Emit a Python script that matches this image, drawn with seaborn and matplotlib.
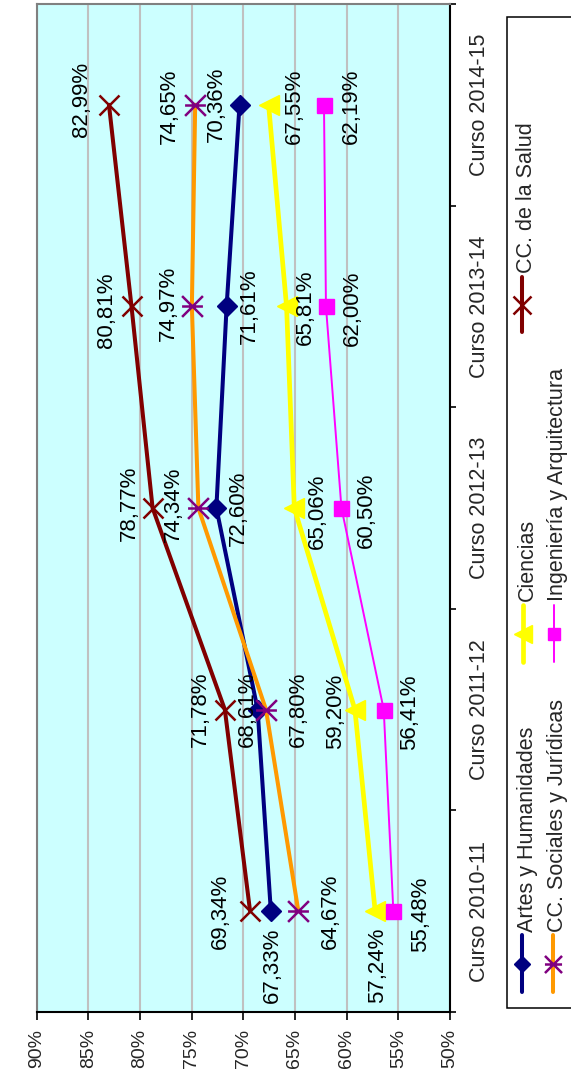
import numpy as np
import pandas as pd
import matplotlib
matplotlib.use("Agg")
import matplotlib.pyplot as plt
from matplotlib.path import Path
from matplotlib.patches import Rectangle
import seaborn as sns

# -------------------------------------------------------------------------
# Data (tasa por rama, %)
# -------------------------------------------------------------------------
cursos = ["Curso 2010-11", "Curso 2011-12", "Curso 2012-13", "Curso 2013-14", "Curso 2014-15"]
ramas = ["Artes y Humanidades", "CC. Sociales y Jurídicas", "Ciencias",
         "Ingeniería y Arquitectura", "CC. de la Salud"]
artes = [67.33, 68.61, 72.60, 71.61, 70.36]
sociales = [64.67, 67.80, 74.34, 74.97, 74.65]
ciencias = [57.24, 59.20, 65.06, 65.81, 67.55]
ingenieria = [55.48, 56.41, 60.50, 62.00, 62.19]
salud = [69.34, 71.78, 78.77, 80.81, 82.99]
pct_ticks = [50, 55, 60, 65, 70, 75, 80, 85, 90]

series = [artes, sociales, ciencias, ingenieria, salud]

# long table for seaborn
df = pd.DataFrame({
    "rama": np.repeat(ramas, len(cursos)),
    "curso": cursos * len(ramas),
    "pos": list(range(len(cursos))) * len(ramas),
    "valor": np.concatenate(series),
})

# -------------------------------------------------------------------------
# Styles
# -------------------------------------------------------------------------
asterisk = Path([(-1, -1), (1, 1), (-1, 1), (1, -1), (-1, 0), (1, 0)],
                [Path.MOVETO, Path.LINETO] * 3)

styles = {
    "Artes y Humanidades": dict(color="#000080", marker="D", ms=10.5, mfc="#000080",
                                mec="#000080", mew=1, lw=2.9),
    "CC. Sociales y Jurídicas": dict(color="#FF9900", marker=asterisk, ms=15, mfc="none",
                                     mec="#800080", mew=1.8, lw=2.9),
    "Ciencias": dict(color="#FFFF00", marker="<", ms=15, mfc="#FFFF00",
                     mec="#FFFF00", mew=1, lw=3.4),
    "Ingeniería y Arquitectura": dict(color="#FF00FF", marker="s", ms=10.8, mfc="#FF00FF",
                                      mec="#FF00FF", mew=1, lw=1.4),
    "CC. de la Salud": dict(color="#800000", marker="x", ms=15, mfc="none",
                            mec="#800000", mew=1.8, lw=2.9),
}

# label offsets in pixels (dx to the right, dy downwards)
label_offsets = {
    "Artes y Humanidades": [(0, 54), (-12, 0), (20, 0), (21, 0), (-25, 0)],
    "CC. Sociales y Jurídicas": [(30, 0), (30, 0), (-27, -4), (-25, -3), (-28, 2)],
    "Ciencias": [(0, 54), (-21, 2), (21, 3), (17, 1), (24, 2)],
    "Ingeniería y Arquitectura": [(25, 3), (24, 3), (23, 2), (24, 2), (25, 2)],
    "CC. de la Salud": [(-32, 0), (-26, 0), (-25, -5), (-27, 4), (-29, -5)],
}

sns.set_style("white")
plt.rcParams["font.family"] = ["Liberation Sans", "DejaVu Sans"]

FS = 15.5

fig = plt.figure(figsize=(5.71, 10.73), dpi=100)
W, H = 571, 1073
ax = fig.add_axes([36.5 / W, (H - 1012) / H, (450 - 36.5) / W, (1012 - 4) / H])
ax.set_facecolor("#CCFFFF")

for rama in ramas:
    st = styles[rama]
    sub = df[df["rama"] == rama]
    sns.lineplot(data=sub, x="valor", y="pos", orient="y", ax=ax, legend=False,
                 color=st["color"], linewidth=st["lw"], marker=st["marker"],
                 markersize=st["ms"], markerfacecolor=st["mfc"],
                 markeredgecolor=st["mec"], markeredgewidth=st["mew"], zorder=3)
    for (_, row), (dx, dy) in zip(sub.iterrows(), label_offsets[rama]):
        txt = f"{row['valor']:.2f}".replace(".", ",") + "%"
        ax.annotate(txt, (row["valor"], row["pos"]), xytext=(dx + 2, -dy),
                    textcoords="offset pixels", rotation=90, ha="center",
                    va="center", fontsize=16, color="black", zorder=5)

# percentage axis (horizontal, inverted)
ax.set_xlim(90, 50)
ax.set_xticks(pct_ticks)
ax.set_xticklabels([f"{t}%" for t in pct_ticks])
ax.xaxis.grid(True, color="#C0C0C0", linewidth=1.5, zorder=0)
ax.set_axisbelow(True)
ax.tick_params(axis="x", direction="out", length=5.5, width=1.2, pad=6.5,
               bottom=True, color="black", labelsize=14, labelrotation=90)

# category axis (vertical, on the right)
ax.set_ylim(-0.5, 4.5)
ax.yaxis.tick_right()
ax.set_yticks(np.arange(-0.5, len(cursos), 1.0))
ax.set_yticklabels([])
ax.set_yticks(range(len(cursos)), minor=True)
ax.set_yticklabels(cursos, minor=True, va="center")
ax.tick_params(axis="y", which="major", direction="out", length=4.5, width=1.2,
               right=True, left=False, color="black")
ax.tick_params(axis="y", which="minor", length=0, pad=13.5, right=True, left=False,
               labelsize=FS, labelrotation=90)
ax.set_xlabel("")
ax.set_ylabel("")

for side in ["top", "left"]:
    ax.spines[side].set_color("#808080")
    ax.spines[side].set_linewidth(1.5)
for side in ["bottom", "right"]:
    ax.spines[side].set_color("black")
    ax.spines[side].set_linewidth(1.5)

# -------------------------------------------------------------------------
# Legend (rotated, drawn by hand in pixel coordinates)
# -------------------------------------------------------------------------
lax = fig.add_axes([0, 0, 1, 1])
lax.set_xlim(0, W)
lax.set_ylim(H, 0)
lax.axis("off")
lax.add_patch(Rectangle((507, 17), 90, 991, facecolor="white",
                        edgecolor="black", linewidth=1.1))

legend_pos = {
    "Artes y Humanidades": (522, 935, 992, 527, 932),
    "CC. Sociales y Jurídicas": (553, 935, 992, 557, 932),
    "Ciencias": (523, 605, 662, 527, 601),
    "Ingeniería y Arquitectura": (554, 605, 662, 557, 601),
    "CC. de la Salud": (522, 277, 332, 527, 273),
}
for rama in ramas:
    st = styles[rama]
    x, y0, y1, tx, ty = legend_pos[rama]
    lax.plot([x, x], [y0, y1], color=st["color"], linewidth=st["lw"])
    lax.plot([x], [(y0 + y1) / 2], linestyle="none", marker=st["marker"],
             markersize=st["ms"] * 0.82, markerfacecolor=st["mfc"],
             markeredgecolor=st["mec"], markeredgewidth=st["mew"])
    lax.text(tx, ty, rama, rotation=90, ha="center", va="bottom", fontsize=FS)

fig.savefig("out.png", dpi=100)
